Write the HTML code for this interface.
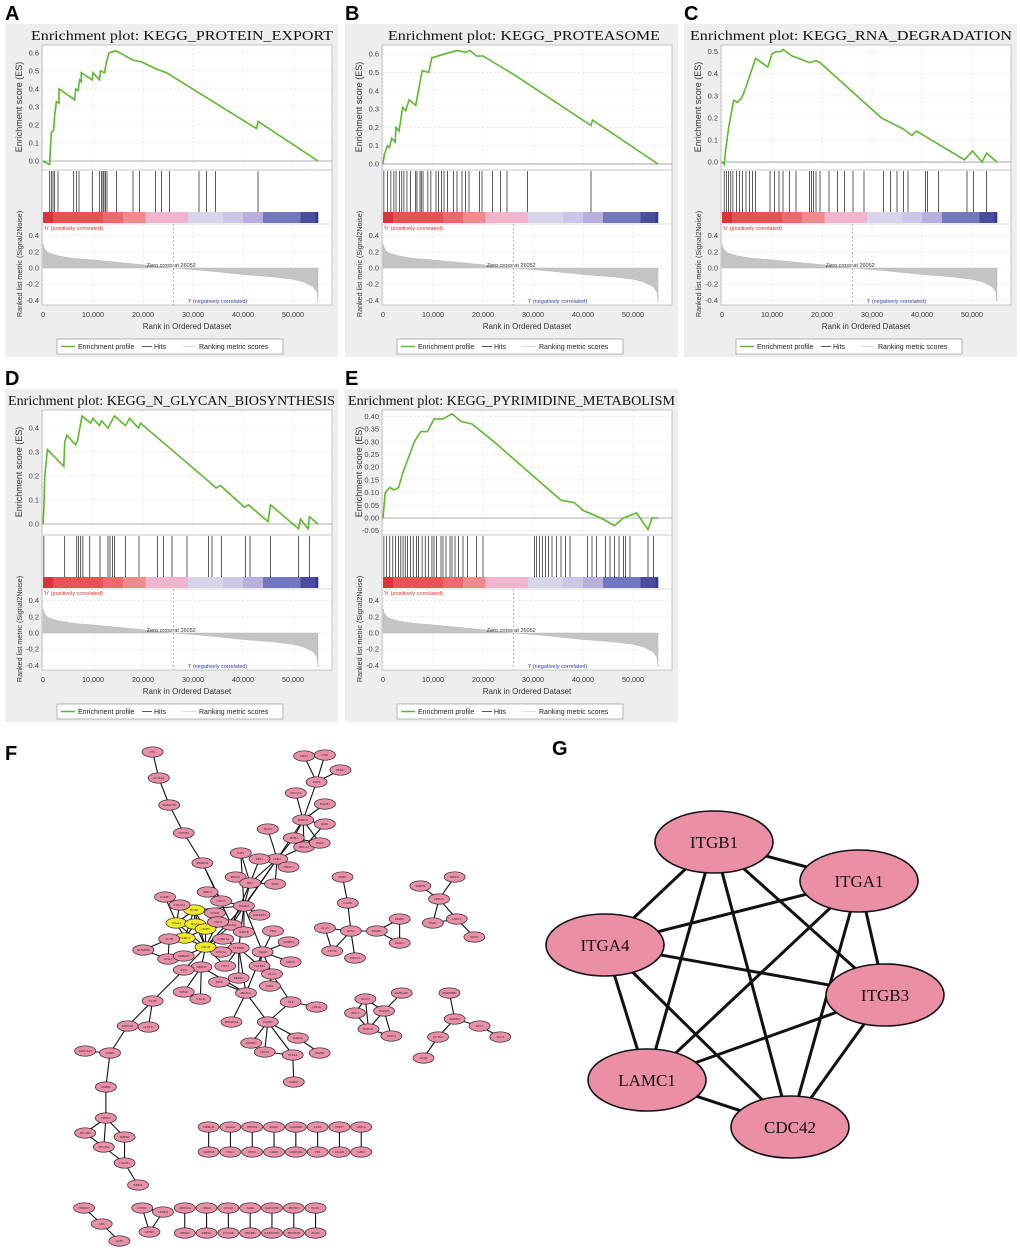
<!DOCTYPE html>
<html><head><meta charset="utf-8"><style>
body{margin:0;background:#fff;}
svg{display:block;font-family:"Liberation Sans",sans-serif;}
</style></head><body>
<svg id="fig" width="1020" height="1252" viewBox="0 0 1020 1252" xmlns="http://www.w3.org/2000/svg">
<rect width="1020" height="1252" fill="#fff"/>
<g id="gsea"></g>
<g id="net"></g>
<g id="netG"></g>
</svg>
<script>
// ===== GSEA data =====
const xTicks = [0,10000,20000,30000,40000,50000];
const xTickLabels = ["0","10,000","20,000","30,000","40,000","50,000"];
const esRankA=[0,1330,1470,1670,2130,2330,2670,3200,3200,6330,6530,7000,7330,7670,7670,9870,10000,11300,11500,12300,12700,13200,14300,14700,18000,19700,22700,24700,42700,43000,55000];
const esValA=[0,-.02,.07,.16,.17,.25,.33,.32,.40,.34,.40,.39,.45,.44,.49,.45,.49,.45,.50,.49,.55,.60,.61,.61,.56,.55,.51,.49,.18,.22,0];
const hitsA=[1330,1670,2000,2330,3000,6130,6670,7200,9870,11300,11700,12000,12200,12500,12800,14700,18000,19300,22500,23700,25300,31200,32700,34500,43000];
const esRankB=[0,260,870,1300,1740,2440,2610,3220,3920,4520,5220,6530,7830,9140,9750,12200,14800,16500,17400,18700,20000,21800,26100,41600,41900,55000];
const esValB=[0,.05,.10,.09,.14,.12,.20,.18,.31,.29,.35,.32,.51,.50,.58,.60,.62,.61,.62,.59,.59,.56,.49,.21,.24,0];
const hitsB=[170,870,1570,2180,2610,3310,3750,4180,4790,5490,6530,6790,7400,7660,8010,8970,9570,10600,11100,11700,12200,12900,14100,14800,15800,16500,17200,19300,19800,21900,23500,24800,28900,41600];
const esRankC=[0,440,700,1310,1750,2360,3060,3930,4800,5680,6720,9170,10000,10900,11800,12200,14000,15300,17500,18800,19600,31900,36200,38000,38900,48500,50100,52000,52900,55000];
const esValC=[0,-.01,.05,.15,.21,.28,.27,.29,.34,.40,.47,.43,.49,.50,.50,.51,.48,.47,.45,.46,.45,.20,.15,.12,.14,.01,.05,0,.04,0];
const hitsC=[440,870,1310,1750,2180,2880,3490,4100,4800,5500,6110,6720,9600,10500,11400,12200,13500,14800,17500,17900,18300,18800,19600,21400,23100,24500,26200,28400,32300,33700,35000,36300,37200,40700,41100,43300,49000,50300,52900];
const esRankD=[0,170,350,610,870,4160,4330,4760,6490,6930,7790,9530,9960,11300,11700,13000,14300,16500,17300,19100,19500,33000,34600,35500,40300,41100,45000,45500,51100,51500,53000,53300,55000];
const esValD=[0,.07,.20,.25,.31,.24,.34,.37,.33,.35,.45,.42,.44,.41,.43,.40,.45,.41,.44,.40,.42,.18,.15,.16,.07,.08,.01,.08,-.02,.02,-.02,.03,0];
const hitsD=[170,4330,6750,7100,7530,7970,9350,11400,13000,13400,13900,14300,16500,19200,22900,24100,25800,28800,33100,33800,35700,40500,41400,45500,51100,53300];
const esRankE=[0,445,1340,2230,3120,4010,5340,6230,7570,8900,10200,12000,13800,15600,17800,22200,35600,38300,40000,43600,46300,48100,50700,53000,53800,55000];
const esValE=[0,.10,.12,.11,.12,.18,.25,.30,.34,.34,.39,.39,.41,.38,.37,.30,.07,.06,.03,0,-.03,0,.02,-.045,0,0];
const hitsE=[180,710,1340,1960,2490,3120,3560,4010,4450,4900,5520,6050,6680,7120,7830,8460,9080,9790,10200,10700,11600,12000,12600,13400,13800,14400,15100,16000,16900,18700,20000,30300,30700,31300,31900,32500,33100,33800,34700,35600,36500,37400,40900,41800,42700,44500,45400,46300,47200,48100,48500,49400,53000,54100];
const metricRank=[0,300,1000,3000,6000,10000,15000,20000,26052,32000,40000,46000,50000,52000,54000,54800,55000];
const metricVal=[0.30,0.24,0.19,0.15,0.12,0.10,0.07,0.04,0,-0.03,-0.08,-0.11,-0.14,-0.17,-0.23,-0.30,-0.42];
const barStops=[0,2000,12000,16000,20500,29000,36000,40000,44000,51500,54500,55000];
const barColors=["#d8343a","#e45456","#ea6a70","#ee8a8c","#f0b4cc","#d8d4ec","#cdc6e4","#b8b0da","#7278c0","#4c4c9c","#2d3a9c","#3a1a8a"];

const NS="http://www.w3.org/2000/svg";
function el(tag,attrs,parent,txt){const e=document.createElementNS(NS,tag);for(const k in attrs)e.setAttribute(k,attrs[k]);if(txt!==undefined)e.textContent=txt;parent.appendChild(e);return e;}

const panels=[
 {id:"a",letter:"A",dx:0,dy:0,title:"Enrichment plot: KEGG_PROTEIN_EXPORT",tx0:31,tx1:333,r:esRankA,v:esValA,h:hitsA,ymin:-0.05,ymax:0.644,ticks:[0,.1,.2,.3,.4,.5,.6],dec:1},
 {id:"b",letter:"B",dx:340,dy:0,title:"Enrichment plot: KEGG_PROTEASOME",tx0:48,tx1:320,r:esRankB,v:esValB,h:hitsB,ymin:-0.033,ymax:0.65,ticks:[0,.1,.2,.3,.4,.5,.6],dec:1},
 {id:"c",letter:"C",dx:679,dy:0,title:"Enrichment plot: KEGG_RNA_DEGRADATION",tx0:11,tx1:333,r:esRankC,v:esValC,h:hitsC,ymin:-0.036,ymax:0.53,ticks:[0,.1,.2,.3,.4,.5],dec:1},
 {id:"d",letter:"D",dx:0,dy:365,title:"Enrichment plot: KEGG_N_GLYCAN_BIOSYNTHESIS",tx0:8,tx1:335,r:esRankD,v:esValD,h:hitsD,ymin:-0.046,ymax:0.475,ticks:[0,.1,.2,.3,.4],dec:1},
 {id:"e",letter:"E",dx:340,dy:365,title:"Enrichment plot: KEGG_PYRIMIDINE_METABOLISM",tx0:8,tx1:335,r:esRankE,v:esValE,h:hitsE,ymin:-0.067,ymax:0.425,ticks:[-.05,0,.05,.1,.15,.2,.25,.3,.35,.4],dec:2}
];
const root=document.getElementById("gsea");
const X0=43,X1=318,PL=42,PR=332;
const xs=r=>X0+(X1-X0)*r/55000;
panels.forEach(p=>{
 const g=el("g",{transform:`translate(${p.dx},${p.dy})`},root);
 
 
 const lt=el("text",{x:5,y:20,"font-size":20,"font-weight":"bold",fill:"#000"},g,p.letter);
 
 
 el("rect",{x:5,y:24,width:333,height:333,fill:"#eeeeee"},g);
 el("rect",{x:PL,y:45,width:PR-PL,height:260,fill:"#fff",stroke:"#b8b8b8","stroke-width":0.8},g);
 const tt=el("text",{x:p.tx0,y:40,"font-size":14,textLength:p.tx1-p.tx0,lengthAdjust:"spacingAndGlyphs","font-family":"Liberation Serif,serif",fill:"#111"},g,p.title);
 
 
 xTicks.forEach(t=>{el("line",{x1:xs(t),x2:xs(t),y1:45,y2:170,stroke:"#ddd","stroke-dasharray":"2,2","stroke-width":0.6},g);el("line",{x1:xs(t),x2:xs(t),y1:224,y2:305,stroke:"#ddd","stroke-dasharray":"2,2","stroke-width":0.6},g);});
 const ys=v=>170-125*(v-p.ymin)/(p.ymax-p.ymin);
 p.ticks.forEach(t=>{el("line",{x1:PL,x2:PR,y1:ys(t),y2:ys(t),stroke:"#ddd","stroke-dasharray":"2,2","stroke-width":0.6},g);
  el("text",{x:39,y:ys(t)+2.5,"font-size":7.5,"text-anchor":"end",fill:"#444"},g,t.toFixed(p.dec));});
 el("line",{x1:PL,x2:PR,y1:ys(0),y2:ys(0),stroke:"#999","stroke-width":0.8},g);
 el("line",{x1:PL,x2:PR,y1:170,y2:170,stroke:"#b8b8b8","stroke-width":0.8},g);
 const yl=el("text",{transform:`translate(22,107) rotate(-90)`,"font-size":9,"text-anchor":"middle",fill:"#333"},g,"Enrichment score (ES)");
 
 
 const pts=p.r.map((r,i)=>xs(r).toFixed(1)+","+ys(p.v[i]).toFixed(1)).join(" ");
 const pl=el("polyline",{points:pts,fill:"none",stroke:"#5cb82e","stroke-width":1.6},g);
 
 
 p.h.forEach(h=>{const l=el("line",{x1:xs(h),x2:xs(h),y1:171,y2:212,stroke:"#333","stroke-width":0.8},g);
  
  });
 for(let i=0;i<barStops.length-1;i++){el("rect",{x:xs(barStops[i]),y:212,width:xs(barStops[i+1])-xs(barStops[i])+0.3,height:11,fill:barColors[i]},g);}
 el("line",{x1:PL,x2:PR,y1:224,y2:224,stroke:"#b8b8b8","stroke-width":0.6},g);
 const ym=v=>268-v*81;
 [0.4,0.2,0,-0.2,-0.4].forEach(t=>{el("line",{x1:PL,x2:PR,y1:ym(t),y2:ym(t),stroke:"#ddd","stroke-dasharray":"2,2","stroke-width":0.6},g);
  el("text",{x:39,y:ym(t)+2.5,"font-size":7.5,"text-anchor":"end",fill:"#444"},g,t.toFixed(1));});
 let ap="M"+xs(0)+","+ym(0);
 metricRank.forEach((r,i)=>{ap+=" L"+xs(r).toFixed(1)+","+ym(metricVal[i]).toFixed(1);});
 ap+=" L"+xs(55000)+","+ym(0)+"Z";
 const ar=el("path",{d:ap,fill:"#c4c4c4",stroke:"#b0b0b0","stroke-width":0.4},g);
 
 
 el("line",{x1:xs(26052),x2:xs(26052),y1:224,y2:305,stroke:"#888","stroke-dasharray":"2,2","stroke-width":0.6},g);
 el("text",{x:xs(26052)-2,y:267,"font-size":5.5,"text-anchor":"middle",fill:"#333"},g,"Zero cross at 26052");
 el("text",{x:44,y:230,"font-size":5.5,fill:"#e03030"},g,"'h' (positively correlated)");
 el("text",{x:188,y:303,"font-size":5.5,fill:"#3040b0"},g,"'l' (negatively correlated)");
 const rt=el("text",{transform:`translate(22,264) rotate(-90)`,"font-size":7.2,"text-anchor":"middle",fill:"#333"},g,"Ranked list metric (Signal2Noise)");
 
 
 xTicks.forEach((t,i)=>el("text",{x:xs(t),y:317,"font-size":7.2,"text-anchor":"middle",fill:"#333"},g,xTickLabels[i]));
 const xt=el("text",{x:187,y:329,"font-size":8,"text-anchor":"middle",fill:"#333"},g,"Rank in Ordered Dataset");
 
 
 const lg=el("g",{},g);
 
 
 el("rect",{x:57,y:339,width:226,height:15,fill:"#fff",stroke:"#888","stroke-width":0.6},lg);
 el("line",{x1:61,x2:75,y1:346.5,y2:346.5,stroke:"#5cb82e","stroke-width":1.5},lg);
 el("text",{x:78,y:349,"font-size":7,fill:"#222"},lg,"Enrichment profile");
 el("line",{x1:142,x2:152,y1:346.5,y2:346.5,stroke:"#555","stroke-width":1},lg);
 el("text",{x:154,y:349,"font-size":7,fill:"#222"},lg,"Hits");
 el("line",{x1:182,x2:196,y1:346.5,y2:346.5,stroke:"#ddd","stroke-width":1},lg);
 el("text",{x:199,y:349,"font-size":7,fill:"#222"},lg,"Ranking metric scores");
});

// ===== Network F =====
const netNodes=[
["YY1",147,752],["ACTL6A",153,778],["SMARCB1",163,805],["GTF2E2",177,833],["POLR2D",195,863],["BIRC2",200,892],["CDC73",213,901],["MAPK3",235,906],["GNAI1",207,913],["GNAQ",223,925],["RAPGEF1",250,915],["RAP1B",235,932],["FBO",263,931],["SPTBN1",278,942],["NRAS",253,952],["GRIN1",280,962],["TGFBR1",250,966],["DLG4",262,974],["UNPL",260,986],["CTNNB1",230,948],["CSNK1A",215,939],["UNC5A",213,952],["DVL1",217,966],["PRKG2",230,978],["EPS8",211,982],["PIK3CG",237,993],["PPP1R12A",223,1022],["VAMP2",258,1022],["SYP",280,1002],["CHGA",305,1007],["RAB3A",287,1038],["MADD",308,1053],["STX1A",282,1055],["CPLX1",255,1052],["STXBP1",242,1043],["VAMP1",283,1082],["HBEGF",194,967],["AST1",177,970],["EIF4E",177,992],["VTI1B",193,999],["CLTB",147,1001],["CLINT1",143,1027],["KDELR2",123,1026],["COPB1",106,1053],["ARFGAP3",82,1051],["COPB2",102,1087],["TMED7",102,1118],["SEC24D",82,1133],["TMED2",120,1137],["SEC23A",100,1147],["LMAN1",120,1163],["ERP44",133,1185],
["ITGB1",187,910,1],["ITGA4",170,923,1],["ITGA1",188,924,1],["ITGB3",198,929,1],["LAMC1",178,938,1],["CDC42",198,947,1],
["COL4A1",173,905],["ICAM1",159,897],["ACTB",163,939],["NCKIPSD",138,950],["NCK1",162,959],["ARHGEF",177,956],["UNCX",210,922],
["CDK2",267,859],["RBL1",250,859],["E2F1",232,853],["HDAC5",278,867],["PRKDC",227,877],["RB1",241,883],["SKP2",265,884],["TRAF2",258,829],["PKM2",283,838],["BRCA1",293,847],["POLE",308,843],["RMI1",313,824],["BARD1",292,820],["BACH1",313,804],["CDC25A",285,793],["RNF2",305,782],["PELP1",328,770],["CBX7",293,756],["LYRI",313,755],
["INPP5",330,877],["CANX",335,903],["ALG5",313,928],["RPN2",338,931],["STT3A",320,951],["MAGT1",342,958],["PSMD1",363,931],["PSME3",385,919],["PSMC5",385,943],
["DDX51",438,877],["SNRPN",405,886],["DHX15",423,899],["PNO1",417,923],["UTP15",440,919],["NKN2",457,937],
["NUP37",352,999],["RANGAP1",387,993],["NDC1",342,1013],["NUP205",370,1011],["NUP155",355,1029],["NUP54",377,1036],
["MAPK8IP1",433,993],["MAPK8",438,1019],["KLC1",462,1026],["KLC2",482,1037],["DCTN1",422,1037],["SNX6",408,1058],
["TXNDC5",81,1208],["GNS",98,1224],["GLB1",115,1241],["CENPL",137,1208],["CENPQ",157,1212],["CENPI",144,1232]
];
const netEdges=[["YY1","ACTL6A"],["ACTL6A","SMARCB1"],["SMARCB1","GTF2E2"],["GTF2E2","POLR2D"],["POLR2D","CDC73"],["POLR2D","GNAQ"],["BIRC2","CDC73"],["CDC73","MAPK3"],["MAPK3","RB1"],["MAPK3","CDK2"],["MAPK3","E2F1"],["GNAQ","RB1"],["GNAQ","CDK2"],["RB1","E2F1"],["RB1","RBL1"],["RB1","PRKDC"],["RB1","SKP2"],["RB1","CDK2"],["CDK2","RBL1"],["CDK2","HDAC5"],["CDK2","SKP2"],["CDK2","TRAF2"],["CDK2","PKM2"],["CDK2","BRCA1"],["CDK2","BARD1"],["BARD1","BRCA1"],["BARD1","PKM2"],["BARD1","POLE"],["BARD1","RMI1"],["BARD1","BACH1"],["BARD1","CDC25A"],["BARD1","RNF2"],["BRCA1","POLE"],["BRCA1","RMI1"],["PKM2","POLE"],["RNF2","CBX7"],["RNF2","LYRI"],["RNF2","PELP1"],["CBX7","LYRI"],["MAPK3","RAPGEF1"],["MAPK3","RAP1B"],["MAPK3","NRAS"],["MAPK3","CTNNB1"],["GNAQ","GNAI1"],["CDC42","GNAQ"],["CDC42","CSNK1A"],["CDC42","UNC5A"],["CDC42","HBEGF"],["CDC42","AST1"],["CDC42","DVL1"],["CTNNB1","CSNK1A"],["CTNNB1","DVL1"],["CTNNB1","UNC5A"],["CTNNB1","PIK3CG"],["CTNNB1","PRKG2"],["CTNNB1","TGFBR1"],["NRAS","FBO"],["NRAS","SPTBN1"],["NRAS","GRIN1"],["NRAS","DLG4"],["NRAS","TGFBR1"],["NRAS","PIK3CG"],["DLG4","UNPL"],["DLG4","SYP"],["SYP","CHGA"],["SYP","VAMP2"],["PIK3CG","VAMP2"],["PIK3CG","PPP1R12A"],["PIK3CG","EPS8"],["PIK3CG","HBEGF"],["VAMP2","RAB3A"],["VAMP2","STX1A"],["VAMP2","CPLX1"],["VAMP2","STXBP1"],["RAB3A","MADD"],["STX1A","VAMP1"],["STX1A","CPLX1"],["HBEGF","EIF4E"],["HBEGF","VTI1B"],["AST1","CLTB"],["CLTB","CLINT1"],["CLTB","KDELR2"],["KDELR2","CLINT1"],["KDELR2","COPB1"],["COPB1","ARFGAP3"],["COPB1","COPB2"],["COPB2","TMED7"],["TMED7","SEC24D"],["TMED7","SEC23A"],["TMED7","TMED2"],["SEC24D","SEC23A"],["SEC23A","LMAN1"],["TMED2","LMAN1"],["LMAN1","ERP44"],
["ITGB1","ITGA4"],["ITGB1","ITGA1"],["ITGB1","ITGB3"],["ITGB1","LAMC1"],["ITGB1","CDC42"],["ITGA4","ITGA1"],["ITGA4","ITGB3"],["ITGA4","LAMC1"],["ITGA4","CDC42"],["ITGA1","ITGB3"],["ITGA1","LAMC1"],["ITGA1","CDC42"],["ITGB3","LAMC1"],["ITGB3","CDC42"],["LAMC1","CDC42"],["ITGB1","COL4A1"],["ITGA4","COL4A1"],["COL4A1","ICAM1"],["ITGA4","ICAM1"],["LAMC1","ACTB"],["ACTB","NCKIPSD"],["ACTB","NCK1"],["NCKIPSD","NCK1"],["NCK1","ARHGEF"],["ARHGEF","CDC42"],["UNCX","CDC42"],["UNCX","ITGB3"],["ITGB3","GNAQ"],["ITGB1","MAPK3"],["CDC42","MAPK3"],["CDC42","CTNNB1"],
["INPP5","CANX"],["CANX","RPN2"],["ALG5","RPN2"],["ALG5","STT3A"],["STT3A","RPN2"],["RPN2","MAGT1"],["RPN2","PSMD1"],["PSMD1","PSME3"],["PSMD1","PSMC5"],["PSME3","PSMC5"],
["SNRPN","DHX15"],["DDX51","DHX15"],["DHX15","PNO1"],["DHX15","UTP15"],["PNO1","UTP15"],["UTP15","NKN2"],
["NUP37","NUP205"],["NUP37","NDC1"],["NUP37","NUP155"],["RANGAP1","NUP205"],["NDC1","NUP155"],["NUP205","NUP155"],["NUP205","NUP54"],["NUP155","NUP54"],
["MAPK8IP1","MAPK8"],["MAPK8","KLC1"],["KLC1","KLC2"],["MAPK8","DCTN1"],["DCTN1","SNX6"],
["TXNDC5","GNS"],["GNS","GLB1"],["CENPL","CENPQ"],["CENPL","CENPI"],["CENPQ","CENPI"]];
const pairTop=["MRPL42","IRAK4","INPP5A","RIOK1","COMMD1","CLK4","CEP57","ASF1A"];
const pairBot=["MRPS18","TLK1","FDX1","LRRD","COMMD2","TPX","CKAP2","GBE1"];
const pairTop2=["UBXN2A","UBA6","TTC26","TANK","RAB11FIP","PPP1R3","PLXI1"];
const pairBot2=["UBXN4","UBE2A","TTC30B","TBKBP1","RAB11FIP2","PPP1R3B","PLXI2"];
const XS=1.038;
const net=document.getElementById("net");
const fl=el("text",{x:5,y:760,"font-size":20,"font-weight":"bold"},net,"F");


const pos={};
netNodes.forEach(n=>pos[n[0]]=n);
const eg=el("g",{},net),ng=el("g",{},net);
function drawNode(name,x,y,yellow){
 const gg=el("g",{},ng);
 
 
 el("ellipse",{cx:x,cy:y,rx:10.5,ry:5.2,fill:yellow?"#f0ea2a":"#e98fa7",stroke:"#222","stroke-width":0.7},gg);
 el("text",{x:x,y:y+1,"font-size":3,"text-anchor":"middle","font-family":"Liberation Serif,serif",fill:"#222"},gg,name);
}
function drawEdge(x1,y1,x2,y2){const l=el("line",{x1,y1,x2,y2,stroke:"#111","stroke-width":1.1},eg);
 
 }
netEdges.forEach(e=>{const a=pos[e[0]],b=pos[e[1]];drawEdge(a[1]*XS,a[2],b[1]*XS,b[2]);});
netNodes.forEach(n=>drawNode(n[0],n[1]*XS,n[2],n[3]));
pairTop.forEach((t,i)=>{const x=(201+i*21)*XS;drawEdge(x,1127,x,1152);drawNode(t,x,1127);drawNode(pairBot[i],x,1152);});
pairTop2.forEach((t,i)=>{const x=(178+i*21)*XS;drawEdge(x,1208,x,1233);drawNode(t,x,1208);drawNode(pairBot2[i],x,1233);});

// ===== Network G =====
const gNodes=[["ITGB1",714,842],["ITGA1",859,881],["ITGA4",605,945],["ITGB3",885,995],["LAMC1",647,1080],["CDC42",790,1127]];
const gEdges=[[0,1],[0,2],[0,3],[0,4],[0,5],[1,2],[1,3],[1,4],[1,5],[2,3],[2,4],[2,5],[3,4],[3,5],[4,5]];
const ngG=document.getElementById("netG");
const gl=el("text",{x:552,y:755,"font-size":20,"font-weight":"bold"},ngG,"G");


gEdges.forEach(e=>{const a=gNodes[e[0]],b=gNodes[e[1]];const l=el("line",{x1:a[1],y1:a[2],x2:b[1],y2:b[2],stroke:"#111","stroke-width":3},ngG);
 
 });
gNodes.forEach(n=>{const gg=el("g",{},ngG);
 
 
 el("ellipse",{cx:n[1],cy:n[2],rx:59,ry:31,fill:"#eb8fa6",stroke:"#111","stroke-width":1.6},gg);
 el("text",{x:n[1],y:n[2]+6,"font-size":17,"text-anchor":"middle","font-family":"Liberation Serif,serif",fill:"#111"},gg,n[0]);});
</script>
</body></html>
